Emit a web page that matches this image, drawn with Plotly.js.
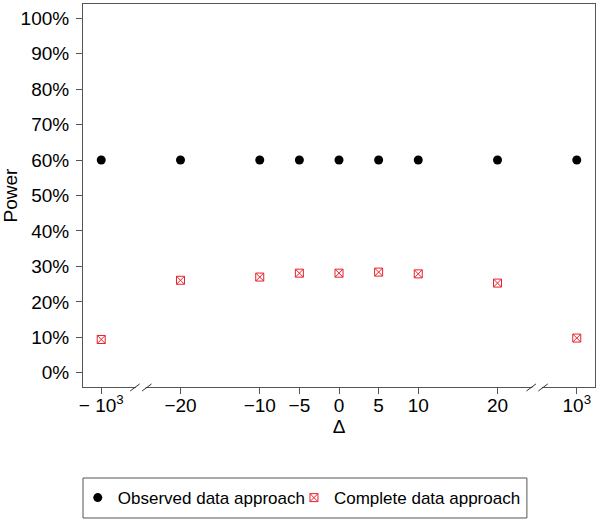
<!DOCTYPE html>
<html>
<head>
<meta charset="utf-8">
<script src="https://cdn.plot.ly/plotly-3.0.1.min.js"></script>
<style>
  html, body { margin: 0; padding: 0; background: #fff; }
  #chart { width: 600px; height: 523px; }
</style>
</head>
<body>
<div id="chart"></div>
<script>
// difference in means, the +-10^3 points sit past an axis break
var deltas = [-1000, -20, -10, -5, 0, 5, 10, 20, 1000];
var tickLabels = ['\u2212 10<sup>3</sup>', '\u221220', '\u221210', '\u22125', '0', '5', '10', '20', '10<sup>3</sup>'];
var observedPower = [60, 60, 60, 60, 60, 60, 60, 60, 60];
var completePower = [9.4, 26.1, 27.0, 28.1, 28.1, 28.4, 27.9, 25.3, 9.8];

// broken axis: anything beyond |20| is drawn at +-30
function axisPos(d) {
  return Math.abs(d) > 20 ? Math.sign(d) * 30 : d;
}
var xs = deltas.map(axisPos);

var font = 'Liberation Sans, Arial, sans-serif';
var frame = '#555';
var legendFont = { family: font, size: 17, color: '#000' };

var data = [
  {
    x: xs,
    y: observedPower,
    type: 'scatter',
    mode: 'markers',
    name: 'Observed data approach',
    legend: 'legend',
    marker: { symbol: 'circle', size: 9, color: '#000' }
  },
  {
    x: xs,
    y: completePower,
    type: 'scatter',
    mode: 'markers',
    name: 'Complete data approach',
    legend: 'legend2',
    marker: { symbol: 'square-x-open', size: 8, color: '#e8202a', line: { width: 1 } }
  }
];

// slash marks for the two axis breaks
var shapes = [];
[-25, 25].forEach(function(c) {
  shapes.push({
    type: 'rect', xref: 'x', yref: 'paper',
    x0: c - 0.6, x1: c + 0.6, y0: -0.006, y1: 0.006,
    fillcolor: '#fff', line: { width: 0 }
  });
  [-0.75, 0.75].forEach(function(o) {
    shapes.push({
      type: 'line', xref: 'x', yref: 'paper',
      x0: c + o - 0.6, x1: c + o + 0.6, y0: -0.0105, y1: 0.008,
      line: { color: '#333', width: 1 }
    });
  });
});
// one frame around both legend entries
shapes.push({
  type: 'rect', xref: 'paper', yref: 'paper',
  x0: 0, x1: 0.867, y0: -0.342, y1: -0.2376,
  line: { color: frame, width: 1 }, fillcolor: 'rgba(0,0,0,0)'
});

var layout = {
  width: 600,
  height: 523,
  margin: { l: 83, r: 5, t: 4, b: 136 },
  paper_bgcolor: '#fff',
  plot_bgcolor: '#fff',
  font: { family: font, size: 19, color: '#000' },
  showlegend: true,
  legend: {
    orientation: 'h',
    x: -0.0102, xanchor: 'left',
    y: -0.243, yanchor: 'top',
    borderwidth: 0, bgcolor: 'rgba(0,0,0,0)',
    font: legendFont
  },
  legend2: {
    orientation: 'h',
    x: 0.412, xanchor: 'left',
    y: -0.243, yanchor: 'top',
    borderwidth: 0, bgcolor: 'rgba(0,0,0,0)',
    font: legendFont
  },
  xaxis: {
    range: [-32.3, 32.3],
    tickmode: 'array',
    tickvals: xs,
    ticktext: tickLabels,
    ticks: 'outside', ticklen: 6, tickcolor: frame,
    ticklabelstandoff: -5,
    showgrid: false, zeroline: false,
    showline: true, mirror: true, linecolor: frame, linewidth: 1,
    title: { text: '\u0394', standoff: 1, font: { family: font, size: 19 } }
  },
  yaxis: {
    range: [-4, 104],
    tick0: 0, dtick: 10,
    ticksuffix: '%',
    ticks: 'outside', ticklen: 6, tickcolor: frame,
    ticklabelstandoff: 3,
    showgrid: false, zeroline: false,
    showline: true, mirror: true, linecolor: frame, linewidth: 1,
    title: { text: 'Power', standoff: 5, font: { family: font, size: 19 } }
  },
  shapes: shapes
};

Plotly.newPlot('chart', data, layout, { displayModeBar: false, staticPlot: true });
</script>
</body>
</html>
